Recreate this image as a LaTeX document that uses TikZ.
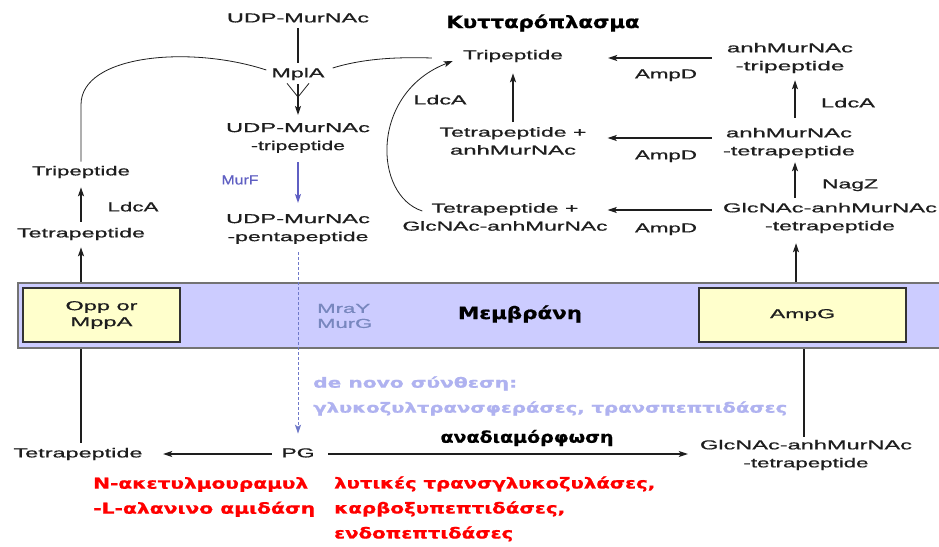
\documentclass[tikz,border=0pt]{standalone}
\usepackage{fontspec}
\setmainfont{Liberation Sans}
\newfontfamily\lblf{Liberation Sans}[FakeBold=0.6]
\newfontfamily\grk{DejaVu Sans}[UprightFont=* Bold, FakeBold=0.8]
\usetikzlibrary{arrows.meta}
\pgfdeclarelayer{back}
\pgfdeclarelayer{bg}
\pgfsetlayers{back,bg,main}
\newcommand{\fitw}[2]{\resizebox{#1pt}{\height}{#2}}
\definecolor{bandc}{RGB}{204,204,255}
\definecolor{boxc}{RGB}{255,255,204}
\definecolor{murfc}{RGB}{95,95,195}
\definecolor{mrayc}{RGB}{120,135,190}
\definecolor{lbluec}{RGB}{175,178,240}
\definecolor{dashc}{RGB}{110,120,200}
\definecolor{ink}{RGB}{30,30,30}
\definecolor{redc}{RGB}{255,0,0}
\begin{document}
\begin{tikzpicture}[x=1pt,y=-1pt,
  lbl/.style={inner sep=0pt, text=ink, font=\lblf\fontsize{13}{18}\selectfont, text height=9.5pt, text depth=2.7pt},
  lbll/.style={inner sep=0pt, text=ink, font=\lblf\fontsize{13}{18}\selectfont, align=center},
  grkb/.style={inner sep=0pt, text=black, font=\grk\fontsize{17}{20}\selectfont},
  grkl/.style={inner sep=0pt, anchor=west, align=left, font=\grk\fontsize{15}{25}\selectfont},
  boxn/.style={draw=black!80, line width=1.3pt, fill=boxc, inner sep=0pt, text=ink, font=\lblf\fontsize{13}{16}\selectfont, align=center},
  tip/.tip={Stealth[length=9pt,width=6pt,inset=2pt]},
  arr/.style={-tip, line width=1.1pt, draw=ink},
  ln/.style={line width=1.1pt, draw=ink},
  thin/.style={line width=0.8pt, draw=ink},
  dsh/.style={-tip, line width=1pt, draw=dashc, dash pattern=on 3pt off 2pt}
]
\useasboundingbox (0,0) rectangle (939,546);
\begin{pgfonlayer}{back}
\fill[white] (0,0) rectangle (939,546);
\end{pgfonlayer}

% membrane band
\fill[bandc] (18,283) rectangle (945,348);
\draw[draw=black!55, line width=1.2pt] (945,283) -- (18,283) -- (18,348) -- (945,348);

% boxes in the membrane
\node[boxn, minimum width=157pt, minimum height=54pt] (opp) at (101.5,315) {\fitw{72}{Opp or}\\\fitw{62}{MppA}};
\node[boxn, minimum width=207pt, minimum height=54pt] (ampg) at (802.5,315) {\fitw{65}{AmpG}};
\node[inner sep=0pt, anchor=west, align=left, text=mrayc, font=\lblf\fontsize{13}{15}\selectfont] (mray) at (317,316) {\fitw{53}{MraY}\\\fitw{55}{MurG}};
\node[grkb] (mem) at (520,314) {\fitw{124}{Μεμβράνη}};

% labels
\node[lbl] (udp1) at (298,19) {\fitw{142}{UDP-MurNAc}};
\node[lbl] (mpla) at (298,74) {\fitw{53}{MplA}};
\node[lbll] (udp2) at (298,138) {\fitw{144}{UDP-MurNAc}\\\fitw{94}{-tripeptide}};
\node[lbl, text=murfc] (murf) at (240,181) {\fitw{37}{MurF}};
\node[lbll] (udp3) at (298,229) {\fitw{144}{UDP-MurNAc}\\\fitw{141}{-pentapeptide}};
\node[lbl] (tri1) at (81,172) {\fitw{98}{Tripeptide}};
\node[lbl] (ldca1) at (133,208) {\fitw{51}{LdcA}};
\node[lbl] (tet1) at (81,234) {\fitw{128}{Tetrapeptide}};
\node[lbl] (tet2) at (78,454) {\fitw{129}{Tetrapeptide}};
\node[lbl] (pg) at (298,454) {\fitw{33}{PG}};
\node[lbll] (glc2) at (806,455) {\fitw{212}{GlcNAc-anhMurNAc}\\\fitw{125}{-tetrapeptide}};
\node[grkb] (cyto) at (543,23) {\fitw{193}{Κυτταρόπλασμα}};
\node[lbl] (tri2) at (513,56) {\fitw{100}{Tripeptide}};
\node[lbl] (ldca2) at (440,101) {\fitw{53}{LdcA}};
\node[lbll] (tetanh) at (513,141) {\fitw{147}{Tetrapeptide +}\\\fitw{126}{anhMurNAc}};
\node[lbll] (tetglc) at (505,217) {\fitw{147}{Tetrapeptide +}\\\fitw{205}{GlcNAc-anhMurNAc}};
\node[lbl] (ampd1) at (666,75) {\fitw{62}{AmpD}};
\node[lbl] (ampd2) at (666,156) {\fitw{62}{AmpD}};
\node[lbl] (ampd3) at (666,229) {\fitw{62}{AmpD}};
\node[lbll] (anhtri) at (790,58) {\fitw{126}{anhMurNAc}\\\fitw{109}{-tripeptide}};
\node[lbl] (ldca3) at (848,104) {\fitw{54}{LdcA}};
\node[lbll] (anhtet) at (789,143) {\fitw{126}{anhMurNAc}\\\fitw{132}{-tetrapeptide}};
\node[lbl] (nagz) at (850,185) {\fitw{56}{NagZ}};
\node[lbll] (glc1) at (830,218) {\fitw{214}{GlcNAc-anhMurNAc}\\\fitw{130}{-tetrapeptide}};

% greek annotations
\node[grkl, text=lbluec, font=\grk\fontsize{14}{25}\selectfont] (denovo) at (313,396) {\fitw{204}{de novo σύνθεση:}\\\fitw{474}{γλυκοζυλτρανσφεράσες, τρανσπεπτιδάσες}};
\node[grkb, font=\grk\fontsize{16}{20}\selectfont] (anad) at (527,438) {\fitw{173}{αναδιαμόρφωση}};
\node[grkl, text=redc] (amid) at (93,497) {\fitw{215}{N-ακετυλμουραμυλ}\\\fitw{222}{-L-αλανινο αμιδάση}};
\node[grkl, text=redc] (lyt) at (334,509) {\fitw{321}{λυτικές τρανσγλυκοζυλάσες,}\\\fitw{231}{καρβοξυπεπτιδάσες,}\\\fitw{179}{ενδοπεπτιδάσες}};

% connectors (middle column)
\draw[ln, shorten <=3pt, shorten >=5pt] (udp1.south) -- (mpla.north);
\coordinate (vj) at (298,97);
\draw[thin] ([shift={(-11pt,-3pt)}]mpla.south) -- (vj);
\draw[thin] ([shift={(11pt,-3pt)}]mpla.south) -- (vj);
\draw[arr, shorten <=4pt, shorten >=8pt] (mpla.south) -- (udp2.north);
\draw[arr, draw=murfc, shorten <=9pt, shorten >=11pt] (udp2.south) -- (udp3.north);
\draw[dsh, shorten <=8pt, shorten >=14pt] (udp3.south) -- (pg.north);

% left column
\draw[arr, shorten <=6pt, shorten >=9pt] (tet1.north) -- (tri1.south);
\draw[thin] ([yshift=4pt]tri1.north) -- ++(0,-57) .. controls +(0,-50) and (190,45) .. ([shift={(-5pt,4pt)}]mpla.west);
\draw[thin] ([shift={(8pt,6pt)}]mpla.east) .. controls (365,58) and (400,57) .. ([shift={(-31pt,-2pt)}]tri2.west);

% right part
\draw[thin, -tip] ([shift={(20pt,6pt)}]tetglc.west) .. controls (373,195) and (370,93) .. ([shift={(-10pt,-5pt)}]tri2.west);
\draw[arr, shorten <=5pt, shorten >=11pt] (tetanh.north) -- (tetanh.north |- tri2.south);
\draw[arr, shorten <=15pt, shorten >=45pt] (anhtri.west) -- (anhtri.west -| tri2.east);
\draw[arr, shorten <=11pt, shorten >=21pt] ([yshift=5pt]anhtet.west) -- ([yshift=5pt]anhtet.west -| tetanh.east);
\draw[arr, shorten <=11pt] ([yshift=8pt]glc1.west) -- ([yshift=8pt]glc1.west -| tetglc.east);
\draw[arr, shorten <=10pt, shorten >=7pt] ([xshift=6pt]anhtet.north) -- ([xshift=5pt]anhtri.south);
\draw[arr, shorten <=5pt, shorten >=4pt] ([xshift=-35pt]glc1.north) -- ([xshift=6pt]anhtet.south);

% bottom
\draw[arr, shorten <=9.5pt, shorten >=20.5pt] (pg.west) -- (tet2.east);
\draw[arr, shorten <=13.5pt, shorten >=12pt] (pg.east) -- (pg.east -| glc2.west);

% lines passing behind the membrane
\begin{pgfonlayer}{bg}
\draw[arr, shorten <=5pt, shorten >=7pt] (tet2.north -| tet1.south) -- (tet1.south);
\draw[arr, shorten >=10pt] ([xshift=-6.5pt]ampg.north) -- ([xshift=-34pt]glc1.south);
\draw[ln, shorten >=3pt] ([xshift=1.5pt]ampg.south) -- ([xshift=1.5pt]ampg.south |- glc2.north);
\end{pgfonlayer}
\end{tikzpicture}
\end{document}
